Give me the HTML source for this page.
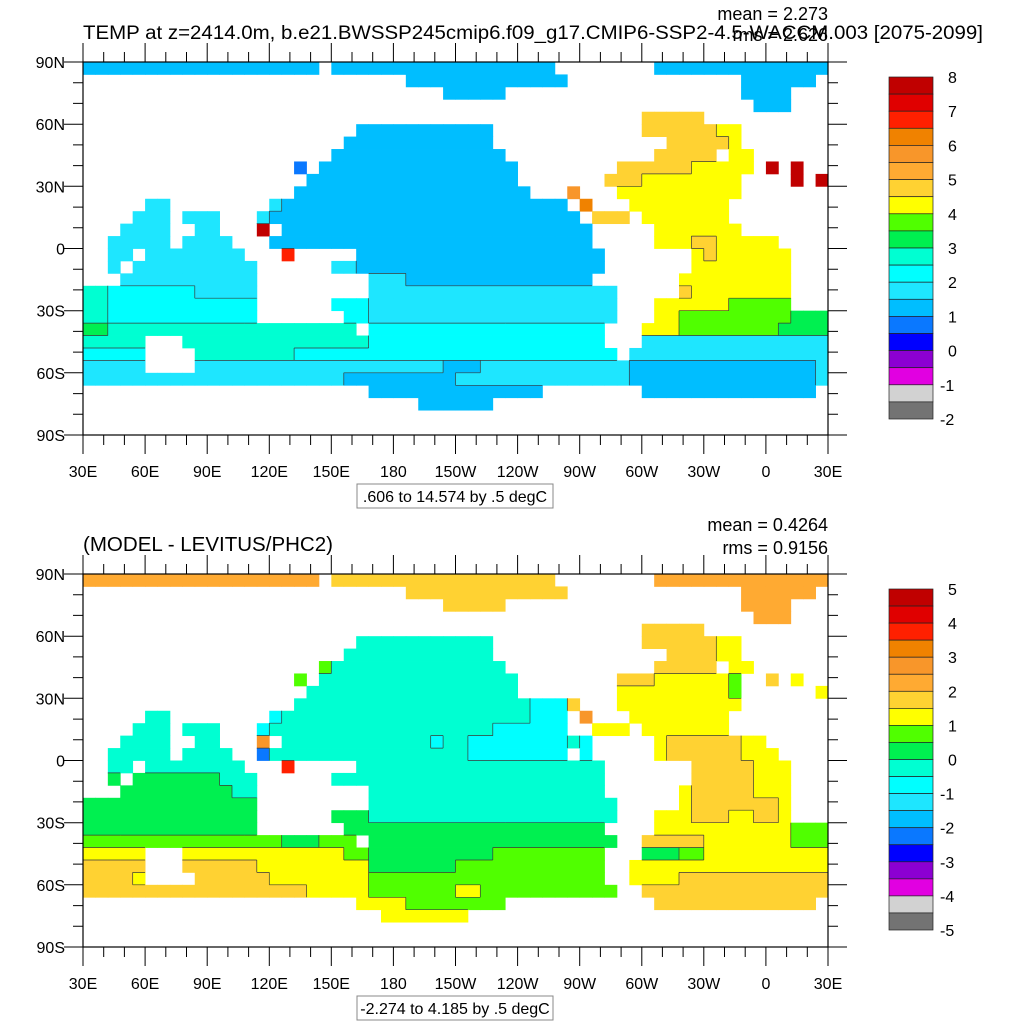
<!DOCTYPE html>
<html><head><meta charset="utf-8">
<style>
html,body{margin:0;padding:0;background:#fff;}
svg{display:block;font-family:"Liberation Sans",sans-serif;}
</style></head>
<body>
<svg id="fig" width="1024" height="1024" viewBox="0 0 1024 1024" xmlns="http://www.w3.org/2000/svg">
<rect width="1024" height="1024" fill="#fff"/>
<g id="top-panel"></g>
<g id="bot-panel"></g>
<text x="83" y="39" font-size="19" textLength="900" lengthAdjust="spacingAndGlyphs">TEMP at z=2414.0m, b.e21.BWSSP245cmip6.f09_g17.CMIP6-SSP2-4.5-WACCM.003 [2075-2099]</text>
<text x="828" y="20" font-size="18" text-anchor="end">mean = 2.273</text>
<text x="828" y="41" font-size="18" text-anchor="end">rms = 2.626</text>
<text x="83" y="551" font-size="20" textLength="250" lengthAdjust="spacingAndGlyphs">(MODEL - LEVITUS/PHC2)</text>
<text x="828" y="531" font-size="18" text-anchor="end">mean = 0.4264</text>
<text x="828" y="554" font-size="18" text-anchor="end">rms = 0.9156</text>
<rect x="357" y="484" width="196" height="24" fill="#fff" stroke="#888" stroke-width="1"/>
<text x="455" y="502" font-size="16" text-anchor="middle">.606 to 14.574 by .5 degC</text>
<rect x="357" y="996" width="196" height="24" fill="#fff" stroke="#888" stroke-width="1"/>
<text x="455" y="1014" font-size="16" text-anchor="middle">-2.274 to 4.185 by .5 degC</text>
</svg>
<script>
// ---- data ----
const lonLabels = ["30E","60E","90E","120E","150E","180","150W","120W","90W","60W","30W","0","30E"];
const latLabels = ["90N","60N","30N","0","30S","60S","90S"];
const topBarLabels = ["8","7","6","5","4","3","2","1","0","-1","-2"];
const botBarLabels = ["5","4","3","2","1","0","-1","-2","-3","-4","-5"];
const paletteBottomToTop = ["#737373","#d2d2d2","#e100e1","#8c00d2","#0000ff","#0a78ff","#00beff","#1ee6ff","#00ffff","#00ffd2","#00f050","#50ff00","#ffff00","#ffd232","#ffaa32","#f8962a","#f08200","#ff2000","#e00000","#c00000"];
const levelCodes = {b:5,B:6,L:7,C:8,A:9,G:10,H:11,Y:12,O:13,P:14,Q:15,R:16,r:17,d:19};
// 6-degree grid rows (90N -> 90S), columns from 30E eastward; "c0-c1:level"
const topRows = [
"0-18:B,20-37:B,46-59:B","26-38:B,53-58:B","29-33:B,53-56:B","54-56:B","45-49:O",
"22-32:B,45-50:O,51-52:Y","21-32:B,47-51:O,52:Y","20-33:B,46-50:O,52-53:Y",
"19-34:B,17:b,43-48:O,49-53:Y,55:d,57:d","18-34:B,42-44:O,45-52:Y,57:d,59:d",
"17-35:B,39:Q,43-52:Y","5-6:L,15:L,16-38:B,40:R,44-51:Y",
"4-6:L,8-10:L,14:L,15-39:B,41-43:O,45-51:Y","3-6:L,9-10:L,14:d,16-40:B,46-52:Y",
"2-6:L,8-11:L,15-40:B,46-48:Y,49-50:O,51-55:Y","2-3:L,5-12:L,16:r,22-41:B,49:Y,50:O,51-56:Y",
"2:L,4-13:L,20-21:L,22-41:B,49-56:Y","3-13:L,23-25:L,26-40:B,48-56:Y",
"0-1:A,2-8:C,9-13:L,23-42:L,48:O,49-56:Y","0-1:A,2-13:C,20-22:C,23-42:L,46-51:Y,52-56:H",
"0-1:A,2-13:C,21-22:C,23-42:L,46-47:Y,48-56:H,57-59:G","0-1:G,2-21:A,23-41:C,45-47:Y,48-55:H,56-59:G",
"0-22:A,5-7:.,23-41:C,45-59:L","0-4:C,9-16:A,17-42:C,44-59:L",
"0-4:L,9-28:L,29-31:B,32-43:L,44-58:B,59:L","0-20:L,21-29:B,30-43:L,44-58:B,59:L",
"23-36:B,45-58:B","27-32:B","",""];
const botRows = [
"0-18:P,20-37:O,46-59:P","26-38:O,53-58:P","29-33:O,53-56:P","54-56:P","45-49:O",
"22-32:A,45-50:O,51-52:Y","21-32:A,47-50:O,51-52:Y","20-33:A,19:H,46-50:O,52-53:Y",
"19-34:A,17:H,43-45:O,46-51:Y,52:H,55:O,57:Y","18-34:A,43-51:Y,52:H,59:Y",
"17-35:A,36-38:C,39:O,43-52:Y","5-6:A,15:C,16-35:A,36-38:C,40:Q,44-51:Y",
"4-6:A,8-10:A,14:C,15-32:A,33-38:C,41-43:Y,45-51:Y","3-6:A,9-10:A,14:Q,16-30:A,28:C,31-38:C,39:A,40:C,46:Y,47-52:O,53-54:Y",
"2-6:A,8-11:A,14:b,15-30:A,31-38:C,40:C,46:Y,47-52:O,53-55:Y","2-3:A,5-12:A,16:r,22-41:A,49-53:O,54-56:Y",
"2:G,4-10:G,11-13:A,20-21:A,22-41:A,49-53:O,54-56:Y","3-11:G,12-13:A,23-25:A,26-41:A,48:Y,49-53:O,54-56:Y",
"0-13:G,23-42:A,48:Y,49-55:O,56:Y","0-13:G,20-22:G,23-42:A,46-48:Y,49-51:O,52-53:Y,54-55:O,56:Y",
"0-13:G,21-41:G,46-56:Y,57-59:H","0-15:H,16-18:G,19-21:H,23-42:G,45-49:O,50-56:Y,57-59:H",
"0-4:Y,8-20:Y,21-22:H,23-32:G,33-41:H,45-47:G,48-49:H,50-59:Y","0-4:O,8-13:O,14-22:Y,23-29:G,30-41:H,44-59:Y",
"0-3:O,4:Y,9-14:O,15-22:Y,23-41:H,44-47:Y,48-59:O","0-17:O,18-22:Y,23-29:H,30-31:Y,32-42:H,45-59:O",
"22-25:Y,26-33:H,46-58:O","24-30:Y","",""];

// ---- drawing ----
const NS="http://www.w3.org/2000/svg";
const PX0=83, PX1=828, NCOL=60, NROW=30;
function mk(tag,attrs,parent){const e=document.createElementNS(NS,tag);for(const k in attrs)e.setAttribute(k,attrs[k]);parent.appendChild(e);return e;}
function decode(row){const a=new Array(NCOL).fill('.');if(!row)return a;row.split(',').forEach(s=>{const [rg,ch]=s.split(':');const p=rg.split('-');const c0=+p[0],c1=p.length>1?+p[1]:c0;for(let c=c0;c<=c1;c++)a[c]=ch;});return a;}
function colX(c){return PX0+c*(PX1-PX0)/NCOL;}
function rowY(y0,y1,r){return y0+r*(y1-y0)/NROW;}

function drawPanel(g,rows,y0,y1,barY0,barY1,barLabels,prefix){
  const grid=rows.map(decode);
  const cells=mk('g',{},g);
  
  
  for(let r=0;r<NROW;r++)for(let c=0;c<NCOL;c++){
    const ch=grid[r][c]; if(ch==='.')continue;
    const x=colX(c),y=rowY(y0,y1,r);
    const el=mk('rect',{x:x.toFixed(2),y:y.toFixed(2),width:((PX1-PX0)/NCOL+0.4).toFixed(2),height:((y1-y0)/NROW+0.4).toFixed(2),fill:paletteBottomToTop[levelCodes[ch]]},cells);
    
    
  }
  // contour lines between differing non-missing cells
  let d='';
  for(let r=0;r<NROW;r++)for(let c=0;c<NCOL;c++){
    const ch=grid[r][c]; if(ch==='.')continue;
    if(c+1<NCOL){const n=grid[r][c+1];if(n!=='.'&&n!==ch){const x=colX(c+1);d+=`M${x.toFixed(1)} ${rowY(y0,y1,r).toFixed(1)}V${rowY(y0,y1,r+1).toFixed(1)}`;}}
    if(r+1<NROW){const n=grid[r+1][c];if(n!=='.'&&n!==ch){const y=rowY(y0,y1,r+1);d+=`M${colX(c).toFixed(1)} ${y.toFixed(1)}H${colX(c+1).toFixed(1)}`;}}
  }
  const cl=mk('path',{d:d,stroke:'#3a3a3a','stroke-width':0.7,fill:'none'},g);
  
  
  // frame
  const fr=mk('rect',{x:PX0,y:y0,width:PX1-PX0,height:y1-y0,fill:'none',stroke:'#000','stroke-width':1.2},g);
  
  
  // ticks
  let t='';
  for(let i=0;i<=36;i++){const x=PX0+i*(PX1-PX0)/36;const L=(i%3===0)?19:10;t+=`M${x.toFixed(1)} ${y1}v${L}M${x.toFixed(1)} ${y0}v${-L}`;}
  for(let i=0;i<=18;i++){const y=y0+i*(y1-y0)/18;const L=(i%3===0)?19:10;t+=`M${PX0} ${y.toFixed(1)}h${-L}M${PX1} ${y.toFixed(1)}h${L}`;}
  const tk=mk('path',{d:t,stroke:'#000','stroke-width':1,fill:'none'},g);
  
  
  lonLabels.forEach((s,i)=>{const x=PX0+i*(PX1-PX0)/12;const e=mk('text',{x:x.toFixed(1),y:y1+42,'font-size':16,'text-anchor':'middle'},g);e.textContent=s;
    
    });
  latLabels.forEach((s,i)=>{const y=y0+i*(y1-y0)/6;const e=mk('text',{x:65,y:(y+6).toFixed(1),'font-size':16,'text-anchor':'end'},g);e.textContent=s;
    
    });
  // colorbar
  const cb=mk('g',{},g);
  
  
  const h=(barY1-barY0)/20;
  for(let k=0;k<20;k++){const col=paletteBottomToTop[19-k];
    const e=mk('rect',{x:889,y:(barY0+k*h).toFixed(2),width:44,height:h.toFixed(2),fill:col,stroke:'#222','stroke-width':0.7},cb);
    
    }
  barLabels.forEach((s,i)=>{const y=barY0+i*2*h;const e=mk('text',{x:s[0]==='-'?940:948,y:(y+6).toFixed(1),'font-size':16},cb);e.textContent=s;
    
    });
}
drawPanel(document.getElementById('top-panel'),topRows,62,435,77,419,topBarLabels,'top');
drawPanel(document.getElementById('bot-panel'),botRows,574,947,589,930,botBarLabels,'bottom');
</script>
</body></html>
